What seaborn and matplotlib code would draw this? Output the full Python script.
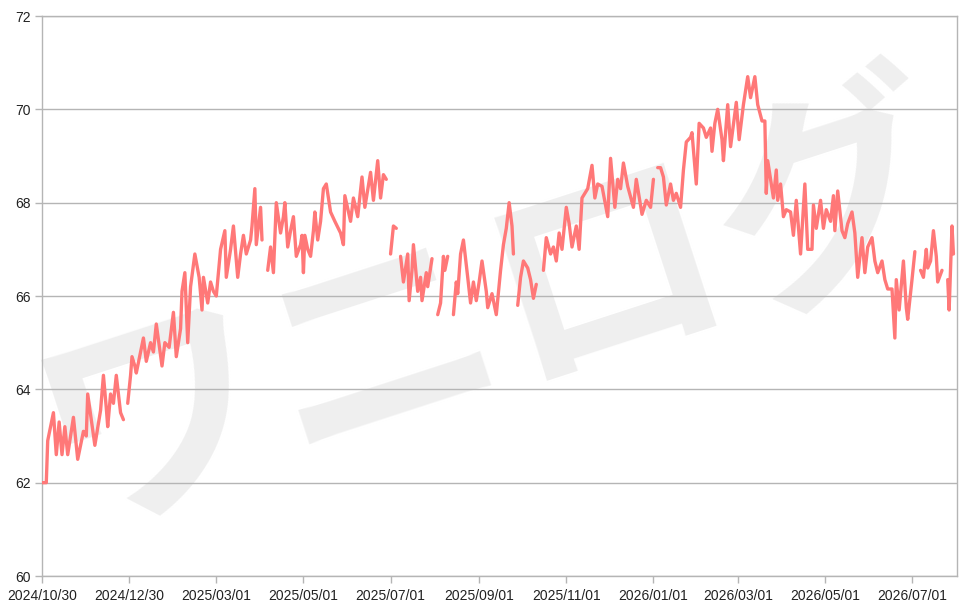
import numpy as np
import pandas as pd
import matplotlib
matplotlib.use("Agg")
import matplotlib.pyplot as plt
import seaborn as sns

start_date = "2024-10-30"

day_offsets = [
    0, 3, 4, 8, 10, 12, 14, 16, 18, 22,
    25, 29, 31, 32, 37, 41, 43, 45, 46, 48,
    50, 52, 55, 57, 58, 60, 62, 63, 65, 66,
    69, 71, 73, 76, 78, 80, 84, 86, 89, 92,
    94, 97, 98, 100, 102, 104, 107, 110, 112, 113,
    116, 118, 120, 122, 125, 128, 129, 132, 134, 137,
    139, 141, 143, 146, 147, 149, 150, 153, 154, 156,
    158, 160, 162, 164, 167, 169, 170, 172, 174, 176,
    178, 181, 182, 183, 184, 186, 188, 190, 191, 193,
    195, 197, 199, 202, 205, 209, 211, 212, 216, 218,
    221, 224, 226, 230, 232, 235, 237, 239, 241, 243,
    244, 246, 248, 249, 251, 253, 256, 257, 259, 260,
    263, 265, 266, 269, 270, 273, 275, 277, 279, 281,
    282, 284, 286, 288, 290, 291, 293, 295, 298, 300,
    302, 304, 306, 308, 311, 312, 315, 318, 321, 323,
    325, 327, 329, 330, 331, 333, 335, 337, 340, 342,
    344, 346, 348, 351, 353, 356, 358, 360, 362, 364,
    367, 369, 371, 374, 376, 378, 380, 382, 385, 387,
    389, 392, 396, 398, 401, 403, 405, 407, 410, 414,
    416, 420, 423, 426, 428, 429, 431, 433, 435, 437,
    440, 442, 444, 447, 449, 451, 454, 455, 458, 460,
    463, 465, 468, 469, 471, 473, 476, 477, 480, 482,
    486, 488, 491, 494, 496, 499, 501, 504, 506, 507,
    508, 510, 512, 514, 515, 517, 519, 521, 524, 526,
    528, 531, 534, 536, 539, 540, 542, 545, 547, 549,
    552, 554, 555, 557, 560, 562, 564, 567, 569, 571,
    574, 576, 578, 581, 583, 585, 588, 590, 592, 595,
    597, 598, 600, 603, 605, 606, 609, 611, 613, 615,
    617, 619, 620, 622, 624, 626, 627, 630, 632, 634,
    635, 637, 638,
]

nan = np.nan
values = [
    62.0, 62.0, 62.9, 63.5, 62.6, 63.3, 62.6, 63.2, 62.6, 63.4,
    62.5, 63.1, 63.0, 63.9, 62.8, 63.55, 64.3, 63.6, 63.2, 63.9,
    63.7, 64.3, 63.5, 63.35, nan, 63.7, 64.3, 64.7, 64.5, 64.35,
    64.8, 65.1, 64.6, 65.0, 64.8, 65.4, 64.5, 65.0, 64.9, 65.65,
    64.7, 65.3, 66.1, 66.5, 65.0, 66.2, 66.9, 66.4, 65.7, 66.4,
    65.85, 66.3, 66.1, 66.0, 67.0, 67.4, 66.4, 67.0, 67.5, 66.4,
    66.9, 67.3, 66.9, 67.2, 67.5, 68.3, 67.1, 67.9, 67.2, nan,
    66.55, 67.05, 66.5, 68.0, 67.35, 67.7, 68.0, 67.05, 67.4, 67.7,
    66.85, 67.1, 67.3, 66.5, 67.3, 67.0, 66.85, 67.4, 67.8, 67.2,
    67.6, 68.3, 68.4, 67.8, 67.6, 67.35, 67.1, 68.15, 67.6, 68.1,
    67.7, 68.55, 67.9, 68.65, 68.05, 68.9, 68.1, 68.6, 68.5, nan,
    66.9, 67.5, 67.45, nan, 66.85, 66.3, 66.9, 65.9, 66.55, 67.1,
    66.1, 66.4, 65.9, 66.5, 66.2, 66.8, nan, 65.6, 65.85, 66.85,
    66.55, 66.85, nan, 65.6, 66.3, 66.05, 66.9, 67.2, 66.4, 65.85,
    66.3, 65.9, 66.3, 66.75, 66.1, 65.75, 66.05, 65.6, 66.55, 67.1,
    67.45, 68.0, 67.5, 66.9, nan, 65.8, 66.4, 66.75, 66.6, 66.35,
    65.95, 66.25, nan, 66.55, 67.25, 66.9, 67.05, 66.75, 67.35, 67.0,
    67.9, 67.55, 67.05, 67.5, 67.0, 68.1, 68.2, 68.3, 68.8, 68.1,
    68.4, 68.35, 67.7, 68.95, 67.9, 68.5, 68.3, 68.85, 68.35, 67.9,
    68.5, 67.75, 68.05, 67.9, 68.5, nan, 68.75, 68.75, 68.55, 67.95,
    68.4, 68.05, 68.2, 67.9, 68.7, 69.3, 69.4, 69.5, 68.4, 69.7,
    69.6, 69.4, 69.6, 69.1, 69.7, 70.0, 69.35, 68.9, 70.1, 69.2,
    70.15, 69.35, 70.1, 70.7, 70.25, 70.7, 70.1, 69.75, 69.75, 68.2,
    68.9, 68.5, 68.1, 68.7, 68.05, 68.4, 67.7, 67.85, 67.8, 67.3,
    68.05, 66.9, 68.4, 67.0, 67.0, 67.95, 67.45, 68.05, 67.45, 67.85,
    67.6, 68.15, 67.4, 68.25, 67.4, 67.25, 67.55, 67.8, 67.35, 66.4,
    67.25, 66.5, 67.05, 67.25, 66.75, 66.5, 66.75, 66.35, 66.15, 66.15,
    65.1, 66.35, 65.7, 66.75, 65.75, 65.5, 66.35, 66.95, nan, 66.55,
    66.4, 67.0, 66.6, 66.75, 67.4, 66.85, 66.3, 66.55, nan, 66.35,
    65.7, 67.5, 66.9,
]

x_tick_labels = [
    "2024/10/30", "2024/12/30", "2025/03/01", "2025/05/01", "2025/07/01",
    "2025/09/01", "2025/11/01", "2026/01/01", "2026/03/01", "2026/05/01",
    "2026/07/01",
]
y_ticks = [60, 62, 64, 66, 68, 70, 72]
watermark = "ワニログ"

assert len(day_offsets) == len(values)

sns.set_theme(style="white")
plt.rcParams["font.family"] = ["Liberation Sans", "DejaVu Sans"]

dates = pd.Timestamp(start_date) + pd.to_timedelta(day_offsets, unit="D")
df = pd.DataFrame({"date": dates, "value": values})
df["seg"] = df["value"].isna().cumsum()
df = df.dropna()

fig = plt.figure(figsize=(9.7, 6.12), dpi=100)
ax = fig.add_axes([42 / 970, 1 - 576 / 612, 915 / 970, 560 / 612])
ax.set_facecolor("white")

ax.text(0.495, 0.47, watermark, transform=ax.transAxes, fontsize=170,
        rotation=18, rotation_mode="anchor", ha="center", va="center",
        color="#efefef", family=["Noto Sans CJK JP", "DejaVu Sans"],
        fontweight="bold", zorder=0.1, clip_on=False)

sns.lineplot(data=df, x="date", y="value", units="seg", estimator=None,
             color="#ff7878", linewidth=2.4, ax=ax, legend=False, zorder=3)

ax.set_ylim(60, 72)
ax.set_yticks(y_ticks)
ax.set_yticklabels([str(v) for v in y_ticks])
tick_dates = pd.to_datetime(x_tick_labels, format="%Y/%m/%d")
ax.set_xticks(tick_dates)
ax.set_xticklabels(x_tick_labels)
ax.set_xlim(pd.Timestamp(start_date), pd.Timestamp(start_date) + pd.Timedelta(days=640.5))

ax.set_axisbelow(True)
ax.grid(axis="y", color="#b5b5b5", linewidth=1.0)
ax.grid(axis="x", visible=False)
for sp in ax.spines.values():
    sp.set_visible(True)
    sp.set_color("#b5b5b5")
    sp.set_linewidth(1.0)
ax.tick_params(axis="both", bottom=True, left=True, length=5, width=1,
               color="#b5b5b5", labelsize=10, labelcolor="#222222", direction="out")
ax.tick_params(axis="y", pad=3)
ax.tick_params(axis="x", pad=4)
ax.set_xlabel("")
ax.set_ylabel("")

fig.savefig("out.png", dpi=100)
